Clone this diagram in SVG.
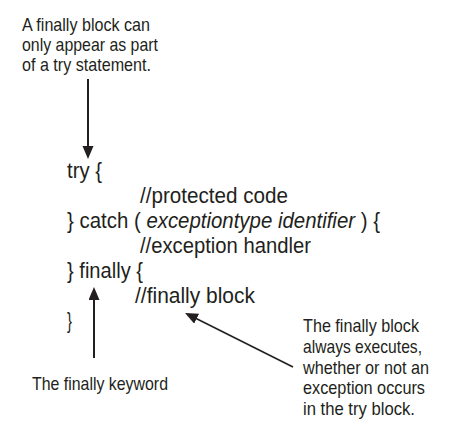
<svg xmlns="http://www.w3.org/2000/svg" width="449" height="438" viewBox="0 0 449 438">
<style>
text { font-family: "Liberation Sans Narrow", "Liberation Sans", Arial, sans-serif; fill: #231f20; }
.lbl { font-size: 18.5px; }
.code { font-size: 21.5px; }
.it { font-style: italic; }
.arr { stroke: #231f20; fill: none; }
</style>
<defs>
<marker id="ah" markerUnits="userSpaceOnUse" markerWidth="14" markerHeight="12" refX="10" refY="5.5" orient="auto">
<path d="M0,0 L13,5.5 L0,11 z" fill="#231f20"/>
</marker>
</defs>
<rect width="449" height="438" fill="#ffffff"/>
<g id="note-top">
<text class="lbl" x="22" y="31" textLength="128" lengthAdjust="spacingAndGlyphs">A finally block can</text>
<text class="lbl" x="22" y="51" textLength="136" lengthAdjust="spacingAndGlyphs">only appear as part</text>
<text class="lbl" x="22" y="71" textLength="129" lengthAdjust="spacingAndGlyphs">of a try statement.</text>
</g>
<g id="code">
<text class="code" x="67" y="178" textLength="35" lengthAdjust="spacingAndGlyphs">try {</text>
<text class="code" x="140" y="203" textLength="148" lengthAdjust="spacingAndGlyphs">//protected code</text>
<text class="code" x="67" y="228" textLength="313" lengthAdjust="spacingAndGlyphs">} catch ( <tspan class="it">exceptiontype identifier</tspan> ) {</text>
<text class="code" x="140" y="253" textLength="171" lengthAdjust="spacingAndGlyphs">//exception handler</text>
<text class="code" x="67" y="278" textLength="76" lengthAdjust="spacingAndGlyphs">} finally {</text>
<text class="code" x="135" y="303" textLength="120" lengthAdjust="spacingAndGlyphs">//finally block</text>
<text class="code" x="67" y="328" textLength="5" lengthAdjust="spacingAndGlyphs">}</text>
</g>
<g id="note-keyword">
<text class="lbl" x="32" y="390" textLength="136" lengthAdjust="spacingAndGlyphs">The finally keyword</text>
</g>
<g id="note-right">
<text class="lbl" x="303" y="332" textLength="116" lengthAdjust="spacingAndGlyphs">The finally block</text>
<text class="lbl" x="303" y="353" textLength="119" lengthAdjust="spacingAndGlyphs">always executes,</text>
<text class="lbl" x="303" y="374" textLength="126" lengthAdjust="spacingAndGlyphs">whether or not an</text>
<text class="lbl" x="303" y="394" textLength="122" lengthAdjust="spacingAndGlyphs">exception occurs</text>
<text class="lbl" x="303" y="415" textLength="112" lengthAdjust="spacingAndGlyphs">in the try block.</text>
</g>
<g id="connectors">
<line class="arr" x1="88" y1="79" x2="88" y2="156" stroke-width="2" marker-end="url(#ah)"/>
<line class="arr" x1="94" y1="358" x2="94" y2="290" stroke-width="2" marker-end="url(#ah)"/>
<line class="arr" x1="293" y1="367" x2="187.7" y2="314.3" stroke-width="1.6" marker-end="url(#ah)"/>
</g>
</svg>
